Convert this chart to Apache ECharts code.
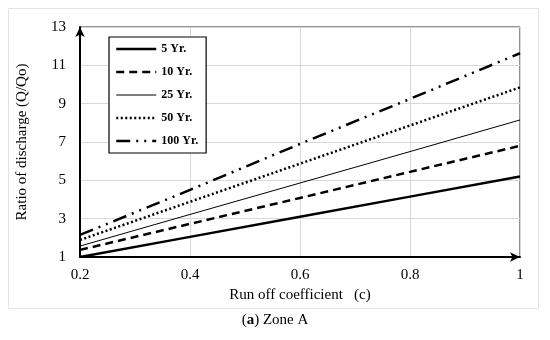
<!DOCTYPE html>
<html><head><meta charset="utf-8">
<script src="https://cdn.jsdelivr.net/npm/echarts@6/dist/echarts.min.js"></script>
<style>html,body{margin:0;padding:0;background:#fff}#c{width:550px;height:340px}</style>
</head><body><div id="c"></div>
<script>
var xValues = [0.2, 0.4, 0.6, 0.8, 1.0];
var names = ['5 Yr.', '10 Yr.', '25 Yr.', '50 Yr.', '100 Yr.'];
var yr5   = [1.0, 2.05, 3.1, 4.15, 5.2];
var yr10  = [1.37, 2.73, 4.08, 5.44, 6.8];
var yr25  = [1.57, 3.22, 4.86, 6.5, 8.15];
var yr50  = [1.89, 3.88, 5.87, 7.86, 9.85];
var yr100 = [2.15, 4.5, 6.9, 9.25, 11.63];
var xTicks = ['0.2', '0.4', '0.6', '0.8', '1'];
var yTicks = ['1', '3', '5', '7', '9', '11', '13'];

var serif = '"Liberation Serif", "Times New Roman", serif';
var allData = [yr5, yr10, yr25, yr50, yr100];
var styles = [
  {width: 2.5, type: 'solid'},
  {width: 2.5, type: [8, 5]},
  {width: 1, type: 'solid'},
  {width: 2.5, type: [2, 2.5]},
  {width: 2.5, type: [14, 6, 2, 6, 2, 6]}
];
function pairs(arr){ return xValues.map(function(x,i){ return [x, arr[i]]; }); }

var chart = echarts.init(document.getElementById('c'), null, {renderer: 'canvas'});
chart.setOption({
  animation: false,
  backgroundColor: '#fff',
  grid: {left: 80, right: 30, top: 27, bottom: 83, show: true, borderColor: '#222', borderWidth: 1},
  legend: {
    show: true, orient: 'vertical', left: 109, top: 37,
    data: names.map(function(n, i){
      return {name: n, lineStyle: {color: '#000', width: styles[i].width, type: styles[i].type},
              itemStyle: {opacity: 0}};
    }),
    itemWidth: 40, itemHeight: 11, itemGap: 11,
    padding: [6, 8, 6, 6],
    borderColor: '#000', borderWidth: 1.2, backgroundColor: '#fff',
    itemStyle: {opacity: 0},
    textStyle: {fontFamily: serif, fontWeight: 'bold', fontSize: 12, color: '#000'}
  },
  xAxis: {
    type: 'value', min: 0.2, max: 1, interval: 0.2,
    name: 'Run off coefficient   (c)', nameLocation: 'middle', nameGap: 27,
    nameTextStyle: {fontFamily: serif, fontSize: 15, color: '#000'},
    axisLine: {show: true, symbol: ['none', 'arrow'], symbolSize: [7, 10], lineStyle: {color: '#000', width: 2}},
    axisTick: {show: false},
    splitLine: {show: true, lineStyle: {color: '#d9d9d9', width: 1}},
    axisLabel: {fontFamily: serif, fontSize: 15, color: '#000', margin: 11,
      formatter: function(v){ var i = Math.round((v - 0.2)/0.2); return xTicks[i] || ''; }}
  },
  yAxis: {
    type: 'value', min: 1, max: 13, interval: 2,
    name: 'Ratio of discharge (Q/Qo)', nameLocation: 'middle', nameGap: 50,
    nameTextStyle: {fontFamily: serif, fontSize: 15, color: '#000'},
    axisLine: {show: true, symbol: ['none', 'arrow'], symbolSize: [7, 10], lineStyle: {color: '#000', width: 2}},
    axisTick: {show: false},
    splitLine: {show: true, lineStyle: {color: '#d9d9d9', width: 1}},
    axisLabel: {fontFamily: serif, fontSize: 15, color: '#000', margin: 14,
      formatter: function(v){ var i = Math.round((v - 1)/2); return yTicks[i] || ''; }}
  },
  graphic: [
    {type: 'rect', shape: {x: 8.5, y: 8.5, width: 530, height: 300}, style: {fill: 'none', stroke: '#e3e3e3', lineWidth: 1}, z: -1, silent: true},
    {type: 'text', left: 'center', top: 313, style: {rich: {b: {fontFamily: serif, fontSize: 15, fontWeight: 'bold', fill: '#000'}, n: {fontFamily: serif, fontSize: 15, fill: '#000'}}, text: '{n|(}{b|a}{n|) Zone A}'}}
  ],
  series: names.map(function(n, i){
    return {
      name: n, type: 'line', data: pairs(allData[i]), showSymbol: false, symbol: 'none',
      lineStyle: {color: '#000', width: styles[i].width, type: styles[i].type},
      itemStyle: {color: '#000'}
    };
  })
});
</script></body></html>
